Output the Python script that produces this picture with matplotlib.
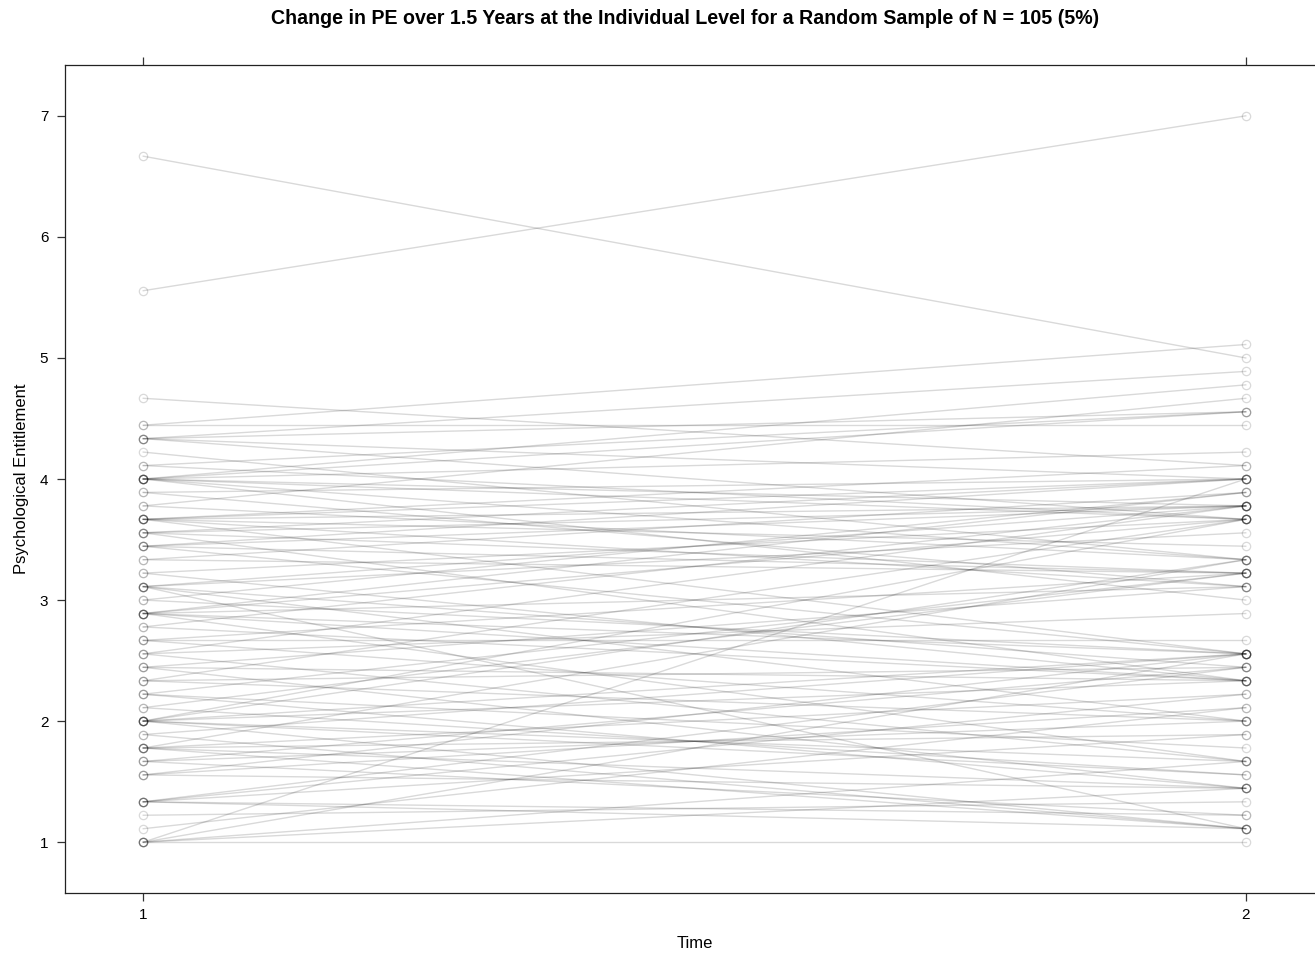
import matplotlib
matplotlib.use("Agg")
import matplotlib.pyplot as plt

plt.rcParams['font.family'] = ['Liberation Sans', 'DejaVu Sans']

title = "Change in PE over 1.5 Years at the Individual Level for a Random Sample of N = 105 (5%)"
x_label = "Time"
y_label = "Psychological Entitlement"
time_points = [1, 2]
x_ticks = [1, 2]
y_ticks = [1, 2, 3, 4, 5, 6, 7]

# PE scores (in ninths of a scale point) at time 1 and time 2 for each individual
pe_time1_ninths = [
    60, 50, 42, 40, 9, 9, 28,
    40, 39, 39, 39, 39, 38, 37, 37,
    36, 36, 36, 36, 36, 36, 36,
    35, 35, 34, 34,
    33, 33, 33, 33, 33, 33,
    32, 32, 32, 32, 31, 31, 31, 31,
    30, 30, 29, 29, 28, 28, 28, 28, 27, 27,
    26, 26, 26, 26, 26, 26, 25, 25,
    24, 24, 24, 23, 23, 23, 22, 22, 22,
    21, 21, 21, 20, 20, 20, 19, 19,
    18, 18, 18, 18, 18, 18, 18, 17, 17,
    16, 16, 16, 16, 16, 15, 15, 15, 14, 14, 14,
    12, 12, 12, 12, 12, 11, 10, 9, 9, 9,
]
pe_time2_ninths = [
    45, 63, 37, 40, 23, 36, 10,
    46, 36, 44, 33, 41, 30, 33, 41,
    43, 34, 30, 38, 27, 41, 33,
    36, 28, 42, 30,
    36, 28, 34, 23, 37, 31,
    36, 29, 34, 21, 36, 29, 34, 23,
    35, 29, 33, 21, 34, 22, 32, 18, 35, 23,
    33, 23, 35, 21, 28, 15, 34, 21,
    29, 18, 24, 34, 15, 26, 28, 13, 21,
    33, 18, 22, 29, 13, 16, 29, 14,
    23, 15, 33, 10, 21, 14, 30, 23, 10,
    20, 13, 30, 10, 17, 18, 11, 22, 19, 13, 23,
    22, 11, 17, 10, 20, 12, 19, 15, 9, 13,
]

pe_time1 = [v / 9 for v in pe_time1_ninths]
pe_time2 = [v / 9 for v in pe_time2_ninths]

fig = plt.figure(figsize=(13.15, 9.55), dpi=100)
ax = fig.add_axes([65 / 1315, 62 / 955, 1259 / 1315, 828 / 955])

for a, b in zip(pe_time1, pe_time2):
    ax.plot(time_points, [a, b], color='black', alpha=0.15, linewidth=1.0,
            marker='o', markersize=6, markerfacecolor='none',
            markeredgecolor='black', markeredgewidth=0.9, clip_on=False)

ax.set_xlim(0.929, 2.071)
ax.set_ylim(0.58, 7.42)
ax.set_xticks(x_ticks)
ax.set_yticks(y_ticks)
ax.tick_params(axis='both', direction='out', length=6, width=0.9, labelsize=11, color='#333333')
ax.tick_params(axis='x', top=True, labeltop=False, pad=5)
ax.tick_params(axis='y', pad=6)
for s in ax.spines.values():
    s.set_linewidth(0.9)
    s.set_color('#222222')

ax.set_xlabel(x_label, fontsize=12, labelpad=10)
ax.set_ylabel(y_label, fontsize=12, labelpad=8)

fig.text(685 / 1315, 1 - 18 / 955, title, ha='center', va='center',
         fontsize=14.1, fontweight='bold')

fig.savefig("out.png", dpi=100)
